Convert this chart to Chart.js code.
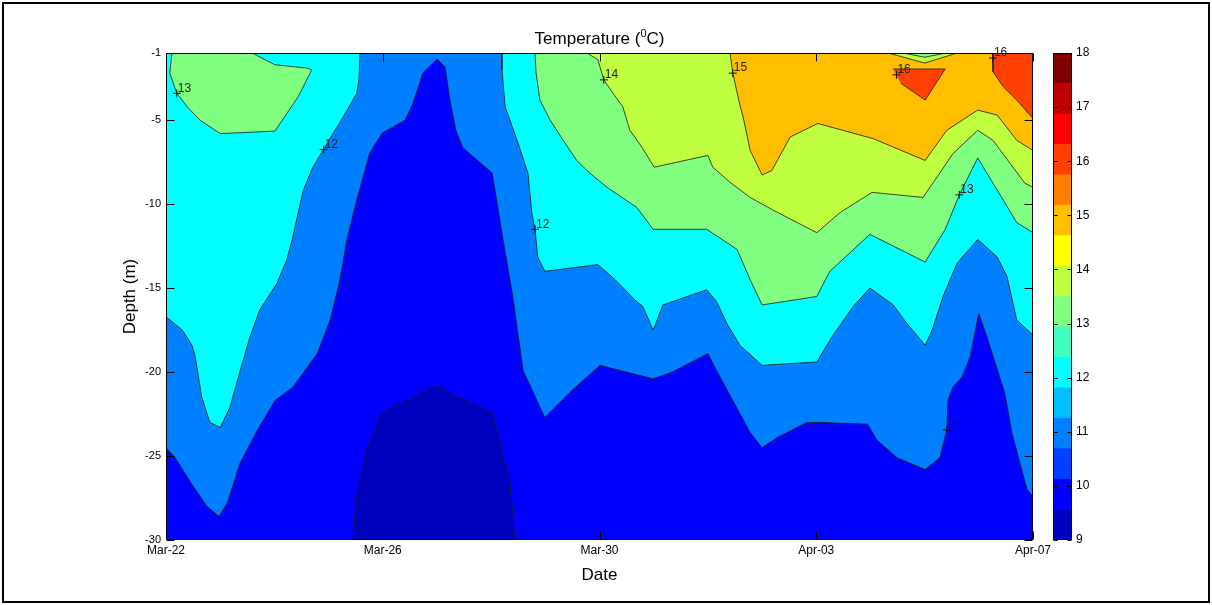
<!DOCTYPE html>
<html>
<head>
<meta charset="utf-8">
<script src="https://cdn.jsdelivr.net/npm/chart.js@4/dist/chart.umd.min.js"></script>
<style>
  html, body { margin: 0; padding: 0; background: #fff; }
  #wrap { position: relative; width: 1212px; height: 605px; overflow: hidden; background: #fff; }
  #main { position: absolute; left: 0; top: 0; }
  #cbar { position: absolute; left: 1040px; top: 0; }
  #frame { position: absolute; left: 2px; top: 2px; width: 1208px; height: 601px; border: 2px solid #000; box-sizing: border-box; pointer-events: none; }
</style>
</head>
<body>
<div id="wrap">
  <canvas id="main" width="1212" height="605"></canvas>
  <canvas id="cbar" width="80" height="605"></canvas>
  <div id="frame"></div>
</div>
<script>
// ---- axes -------------------------------------------------------------
// x: days after Mar-22, y: depth in metres
const dateTicks  = [0, 4, 8, 12, 16];
const dateLabels = ['Mar-22', 'Mar-26', 'Mar-30', 'Apr-03', 'Apr-07'];
const depthTicks = [-30, -25, -20, -15, -10, -5, -1];

// ---- filled contour regions, [day, depth] -----------------------------
// whole section (10-11 °C background)
const domain = [[0, -1], [16, -1], [16, -30], [0, -30]];
// water colder than 10 °C near the bottom
const below10 = [[3.45, -30], [3.52, -27.4], [3.71, -24.6], [3.99, -22.4], [5.0, -20.8], [5.33, -21.4],
  [6.02, -22.4], [6.16, -24.2], [6.35, -26.6], [6.44, -30]];
// warmer than 11 °C
const iso11 = [[0, -24.5], [0.17, -25.1], [0.5, -26.8], [0.76, -28.0], [0.98, -28.6], [1.13, -27.8],
  [1.37, -25.4], [1.68, -23.5], [2.01, -21.7], [2.34, -20.9], [2.79, -18.9], [3.03, -16.9],
  [3.21, -14.5], [3.34, -12.1], [3.52, -9.75], [3.76, -6.95], [3.99, -5.76], [4.41, -5.0],
  [4.56, -3.98], [4.74, -2.19], [5.0, -1.36], [5.15, -1.83], [5.24, -3.8], [5.35, -5.6],
  [5.48, -6.65], [6.02, -8.15], [6.22, -12.1], [6.4, -15.5], [6.59, -19.9], [6.99, -22.7],
  [7.49, -21.1], [8.01, -19.6], [8.99, -20.4], [9.34, -20.0], [10.0, -18.9], [10.16, -19.9],
  [10.78, -23.6], [11.0, -24.5], [11.28, -23.9], [11.83, -23.0], [12.07, -23.0], [12.95, -23.1],
  [13.12, -24.05], [13.49, -25.1], [14.01, -25.8], [14.28, -25.1], [14.41, -23.45], [14.43, -21.7],
  [14.52, -20.9], [14.69, -20.3], [14.84, -19.1], [15.0, -16.5], [15.17, -18.1], [15.48, -21.25],
  [15.61, -23.6], [15.89, -27.0], [16, -27.4], [16, -1], [0, -1]];
// warmer than 12 °C
const iso12West = [[0, -1], [3.58, -1], [3.56, -2.6], [3.52, -3.4], [3.27, -4.8], [2.97, -6.4],
  [2.71, -7.8], [2.53, -9.2], [2.42, -10.8], [2.33, -12.1], [2.23, -13.3], [2.05, -14.7],
  [1.73, -16.3], [1.55, -17.9], [1.37, -19.9], [1.18, -22.1], [1.0, -23.3], [0.81, -23.0],
  [0.66, -21.5], [0.54, -19.1], [0.48, -18.4], [0.3, -17.5], [0, -16.7]];
const iso12East = [[6.2, -1], [6.2, -2.0], [6.26, -4.2], [6.48, -6.2], [6.68, -8.15], [6.75, -10.5],
  [6.81, -11.5], [6.86, -13.15], [6.99, -14.0], [7.97, -13.6], [8.29, -14.5], [8.65, -15.7],
  [8.8, -16.1], [8.99, -17.5], [9.17, -16.0], [9.98, -15.1], [10.16, -15.8], [10.35, -17.1],
  [10.59, -18.4], [11.0, -19.6], [12.01, -19.4], [12.29, -17.9], [12.68, -16.1], [12.99, -15.0],
  [13.42, -16.0], [13.67, -17.1], [14.01, -18.4], [14.14, -17.5], [14.34, -15.5], [14.6, -13.5],
  [14.98, -12.1], [15.34, -13.15], [15.52, -14.3], [15.7, -16.9], [15.8, -17.2], [16, -17.8], [16, -1]];
// warmer than 13 °C
const iso13West = [[0.11, -1], [0.07, -2.2], [0.2, -3.4], [0.39, -4.2], [0.63, -5.0], [1.0, -5.8],
  [2.01, -5.65], [2.23, -4.6], [2.44, -3.6], [2.69, -2.0], [2.6, -1.9], [2.01, -1.7], [1.59, -1]];
const iso13East = [[6.81, -1], [6.83, -2.2], [6.9, -3.8], [7.09, -5.0], [7.33, -6.2], [7.58, -7.4],
  [7.82, -8.15], [8.14, -9.0], [8.69, -10.2], [8.99, -11.5], [9.98, -11.5], [10.54, -12.7],
  [10.78, -14.5], [11.0, -16.0], [12.01, -15.5], [12.25, -14.0], [12.99, -11.8], [14.01, -13.45],
  [14.38, -11.5], [14.64, -9.45], [14.98, -7.25], [15.26, -8.75], [15.45, -9.75], [15.7, -11.1],
  [16, -11.7], [16, -1]];
// warmer than 14 °C
const iso14 = [[7.77, -1], [7.97, -1.4], [8.08, -2.6], [8.25, -3.4], [8.43, -4.2], [8.56, -5.6],
  [8.78, -6.6], [9.01, -7.8], [10.0, -7.1], [10.09, -7.8], [10.41, -8.7], [10.78, -9.6],
  [11.2, -10.35], [12.01, -11.7], [12.44, -10.5], [13.03, -9.3], [13.97, -9.6], [14.28, -8.15],
  [14.52, -7.0], [14.98, -5.6], [15.26, -6.2], [15.63, -7.8], [15.85, -8.75], [16, -9.0], [16, -1]];
// warmer than 15 °C
const iso15 = [[10.41, -1], [10.46, -2.2], [10.59, -4.1], [10.65, -4.8], [10.78, -6.8], [11.0, -8.26],
  [11.18, -8.0], [11.52, -6.0], [12.03, -5.2], [13.05, -6.1], [14.01, -7.4], [14.41, -5.6],
  [14.98, -4.4], [15.34, -4.7], [15.7, -6.2], [16, -6.8], [16, -1]];
// cooler tongue reaching the surface on Apr-04
const dip15 = [[13.33, -1], [14.0, -1.6], [14.6, -1]];
const dip14 = [[13.6, -1], [14.0, -1.25], [14.4, -1]];
// warmer than 16 °C
const iso16West = [[13.42, -1.95], [14.38, -1.95], [14.01, -3.8], [13.56, -2.8]];
const iso16East = [[15.26, -1], [15.26, -2.1], [15.45, -3.0], [15.7, -3.8], [16, -4.9], [16, -1]];

// ---- contour labels -----------------------------------------------------
const labelDays   = [0.2, 2.91, 6.81, 8.08, 10.46, 13.48, 15.26, 14.64, 14.41];
const labelDepths = [-3.4, -6.75, -11.5, -2.6, -2.2, -2.3, -1.3, -9.45, -23.45];
const labelValues = [13, 12, 12, 14, 15, 16, 16, 13, 11];

// ---- colour scale (jet, 16 steps between 9 and 18 °C) -------------------
const cbEdges = [9, 9.5625, 10.125, 10.6875, 11.25, 11.8125, 12.375, 12.9375, 13.5,
  14.0625, 14.625, 15.1875, 15.75, 16.3125, 16.875, 17.4375, 18];
const cbTicks = [9, 10, 11, 12, 13, 14, 15, 16, 17, 18];
const jet16 = ['#0000bf', '#0000ff', '#0040ff', '#0080ff', '#00bfff', '#00ffff', '#40ffbf', '#80ff80',
  '#bfff40', '#ffff00', '#ffbf00', '#ff8000', '#ff4000', '#ff0000', '#bf0000', '#800000'];

function levelColor(level) {
  // colour of the band whose lower contour is `level`
  const idx = Math.min(15, Math.floor((level - cbEdges[0]) / (cbEdges[16] - cbEdges[0]) * 16));
  return jet16[idx];
}

// painted from the bottom layer upwards
const layers = [
  { pts: domain,    level: 10, line: false },
  { pts: below10,   level: 9 },
  { pts: iso11,     level: 11 },
  { pts: iso12West, level: 12 },
  { pts: iso12East, level: 12 },
  { pts: iso13West, level: 13 },
  { pts: iso13East, level: 13 },
  { pts: iso14,     level: 14 },
  { pts: iso15,     level: 15 },
  { pts: dip15,     level: 14 },
  { pts: dip14,     level: 13 },
  { pts: iso16West, level: 16 },
  { pts: iso16East, level: 16 }
];

const FONT = "'Liberation Sans', Arial, Helvetica, sans-serif";

const datasets = layers.map((l, i) => ({
  data: l.pts.map(p => ({ x: p[0], y: p[1] })),
  fill: 'shape',
  backgroundColor: levelColor(l.level),
  borderColor: l.line === false ? 'rgba(0,0,0,0)' : '#1a1a1a',
  borderWidth: l.line === false ? 0 : 0.8,
  pointRadius: 0,
  tension: 0,
  order: layers.length + 1 - i
}));

datasets.push({
  data: labelDays.map((d, i) => ({ x: d, y: labelDepths[i] })),
  showLine: false,
  fill: false,
  pointStyle: 'cross',
  pointRadius: 4,
  pointBorderColor: '#111',
  pointBorderWidth: 1,
  pointBackgroundColor: '#111',
  order: 0
});
const labelSetIndex = datasets.length - 1;

const plotDecor = {
  id: 'plotDecor',
  afterDatasetsDraw(chart) {
    const { ctx, chartArea: a, scales: { x, y } } = chart;
    const L = Math.round(a.left) + 0.5, R = Math.round(a.right) - 0.5;
    const T = Math.round(a.top) + 0.5, B = Math.round(a.bottom) - 0.5;
    ctx.save();
    ctx.strokeStyle = '#000';
    ctx.lineWidth = 1;
    ctx.strokeRect(L, T, R - L, B - T);
    ctx.beginPath();
    dateTicks.forEach(v => {
      const px = Math.round(x.getPixelForValue(v)) + 0.5;
      ctx.moveTo(px, B); ctx.lineTo(px, B - 8);
      ctx.moveTo(px, T); ctx.lineTo(px, T + 8);
    });
    depthTicks.forEach(v => {
      const py = Math.round(y.getPixelForValue(v)) + 0.5;
      ctx.moveTo(L, py); ctx.lineTo(L + 8, py);
      ctx.moveTo(R, py); ctx.lineTo(R - 8, py);
    });
    ctx.stroke();

    // contour values beside their markers
    ctx.font = '12px ' + FONT;
    ctx.fillStyle = '#222';
    ctx.textAlign = 'left';
    ctx.textBaseline = 'bottom';
    const meta = chart.getDatasetMeta(labelSetIndex);
    meta.data.forEach((pt, i) => {
      ctx.fillText(String(labelValues[i]), pt.x + 1, pt.y + 1);
    });
    ctx.restore();
  },
  afterDraw(chart) {
    const { ctx, chartArea: a } = chart;
    const cx = (a.left + a.right) / 2;
    ctx.save();
    ctx.fillStyle = '#000';
    ctx.textBaseline = 'alphabetic';
    // title with superscript degree sign
    const big = '17px ' + FONT, small = '11px ' + FONT;
    ctx.font = big;
    const p1 = 'Temperature (', p3 = 'C)';
    const w1 = ctx.measureText(p1).width, w3 = ctx.measureText(p3).width;
    ctx.font = small;
    const w2 = ctx.measureText('0').width;
    const sx = cx - (w1 + w2 + w3) / 2;
    const by = 44;
    ctx.font = big; ctx.textAlign = 'left';
    ctx.fillText(p1, sx, by);
    ctx.font = small;
    ctx.fillText('0', sx + w1, by - 7);
    ctx.font = big;
    ctx.fillText(p3, sx + w1 + w2, by);
    // axis titles
    ctx.textAlign = 'center';
    ctx.textBaseline = 'middle';
    ctx.fillText('Date', cx, 575);
    ctx.translate(130, (a.top + a.bottom) / 2);
    ctx.rotate(-Math.PI / 2);
    ctx.fillText('Depth (m)', 0, 0);
    ctx.restore();
  }
};

new Chart(document.getElementById('main'), {
  type: 'line',
  data: { datasets },
  options: {
    responsive: false,
    animation: false,
    devicePixelRatio: 1,
    events: [],
    layout: { padding: { top: 53, left: 0, right: 179, bottom: 0 } },
    plugins: {
      legend: { display: false },
      tooltip: { enabled: false },
      filler: { propagate: false }
    },
    scales: {
      x: {
        type: 'linear', min: 0, max: 16,
        afterBuildTicks: s => { s.ticks = dateTicks.map(v => ({ value: v })); },
        afterFit: s => { s.height = 65; },
        grid: { display: false, drawTicks: false },
        border: { display: false },
        ticks: {
          autoSkip: false, maxRotation: 0, padding: 3, color: '#000',
          font: { size: 12, family: FONT },
          callback: v => dateLabels[dateTicks.indexOf(v)]
        }
      },
      y: {
        type: 'linear', min: -30, max: -1,
        afterBuildTicks: s => { s.ticks = depthTicks.map(v => ({ value: v })); },
        afterFit: s => { s.width = 166; },
        grid: { display: false, drawTicks: false },
        border: { display: false },
        ticks: { padding: 5, color: '#000', font: { size: 11, family: FONT } }
      }
    }
  },
  plugins: [plotDecor]
});

// ---- colour bar ---------------------------------------------------------
const barDecor = {
  id: 'barDecor',
  afterDraw(chart) {
    const { ctx, chartArea: a, scales: { y } } = chart;
    const L = Math.round(a.left) + 0.5, R = Math.round(a.right) - 0.5;
    const T = Math.round(a.top) + 0.5, B = Math.round(a.bottom) - 0.5;
    ctx.save();
    ctx.strokeStyle = '#000';
    ctx.lineWidth = 1;
    ctx.strokeRect(L, T, R - L, B - T);
    ctx.beginPath();
    cbTicks.forEach(v => {
      const py = Math.round(y.getPixelForValue(v)) + 0.5;
      ctx.moveTo(L, py); ctx.lineTo(L + 4, py);
      ctx.moveTo(R, py); ctx.lineTo(R - 4, py);
    });
    ctx.stroke();
    ctx.restore();
  }
};

new Chart(document.getElementById('cbar'), {
  type: 'bar',
  data: {
    labels: [''],
    datasets: jet16.map((c, i) => ({
      data: [[cbEdges[i], cbEdges[i + 1]]],
      backgroundColor: c,
      borderWidth: 0,
      grouped: false,
      barPercentage: 1,
      categoryPercentage: 1
    }))
  },
  options: {
    responsive: false,
    animation: false,
    devicePixelRatio: 1,
    events: [],
    layout: { padding: { top: 53, left: 13, right: 0, bottom: 65 } },
    plugins: { legend: { display: false }, tooltip: { enabled: false } },
    scales: {
      x: { display: false },
      y: {
        position: 'right', min: 9, max: 18,
        afterBuildTicks: s => { s.ticks = cbTicks.map(v => ({ value: v })); },
        afterFit: s => { s.width = 48; },
        grid: { display: false, drawTicks: false },
        border: { display: false },
        ticks: { padding: 4, color: '#000', font: { size: 12, family: FONT } }
      }
    }
  },
  plugins: [barDecor]
});
</script>
</body>
</html>
